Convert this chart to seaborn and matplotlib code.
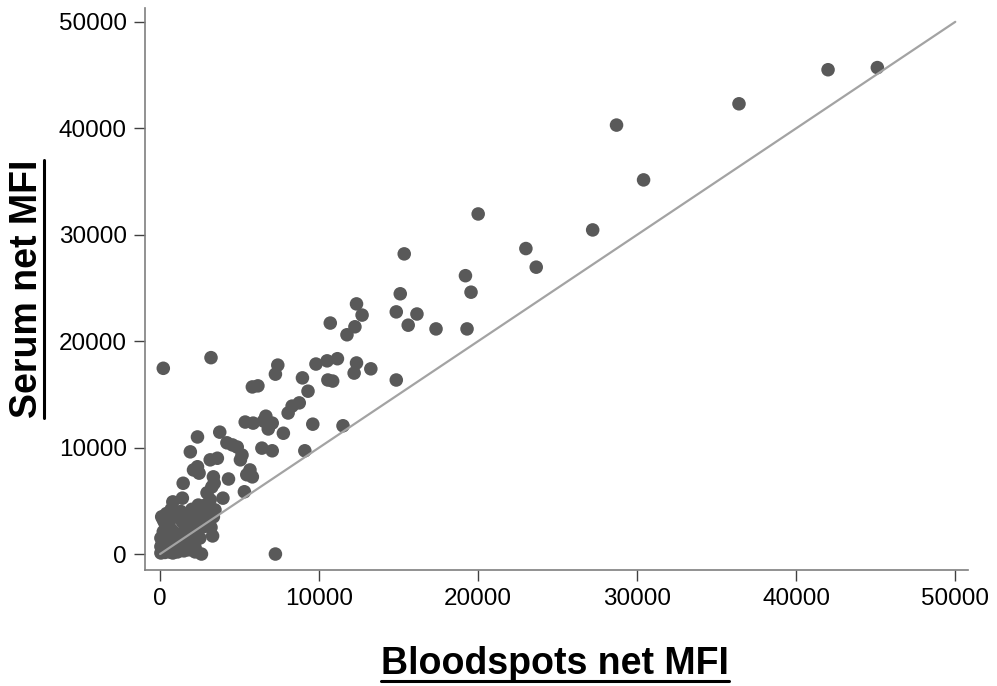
import matplotlib
matplotlib.use("Agg")
import matplotlib.pyplot as plt
from matplotlib.lines import Line2D
import pandas as pd
import seaborn as sns

# Net MFI per sample: bloodspot eluate (x) vs paired serum (y)
bloodspots_mfi = [
    45100, 42000, 36400, 28700, 30400, 27200, 20000, 23000, 23650, 19200,
    19550, 19300, 15350, 15100, 14850, 16150, 15600, 17350, 14850, 12350,
    12700, 10700, 12250, 11750, 7400, 7250, 9800, 10500, 11150, 12350,
    12200, 13250, 10550, 10850, 8950, 9300, 5800, 6150, 8750, 8300,
    8050, 6650, 7050, 5350, 5850, 6500, 6800, 7750, 9600, 11500,
    9100, 3750, 2350, 1900, 4200, 4550, 4850, 6400, 7050, 200,
    3200, 7250, 2200, 2600, 3300, 5150, 5050, 3150, 3600, 2350,
    2100, 2450, 5650, 5800, 3350, 3400, 3250, 4300, 5450, 3950,
    2950, 3150, 5300, 1450, 800, 1400, 3350, 200, 2850, 3450,
    50, 150, 300, 500, 100, 250, 400, 600, 800, 700,
    1000, 1200, 900, 1500, 1300, 1700, 2000, 1600, 2200, 2500,
    200, 400, 100, 600, 1000, 1400, 1800, 2100, 2400, 2800,
    3000, 2600, 2000, 1300, 700, 300, 50, 150, 2200, 1800,
    1100, 1500, 800, 400, 2900, 2400, 50, 3200, 1900, 700,
]
serum_mfi = [
    45700, 45500, 42300, 40300, 35150, 30450, 31950, 28700, 26950, 26150,
    24600, 21150, 28200, 24450, 22750, 22550, 21500, 21150, 16350, 23500,
    22450, 21700, 21350, 20600, 17750, 16900, 17850, 18150, 18350, 17950,
    17000, 17400, 16350, 16250, 16550, 15300, 15700, 15800, 14200, 13900,
    13250, 12950, 12300, 12400, 12300, 12500, 11750, 11350, 12200, 12050,
    9700, 11450, 11000, 9600, 10450, 10250, 10050, 9950, 9700, 17450,
    18450, 0, 200, 0, 1700, 9300, 8850, 8850, 9000, 8200,
    7900, 7600, 7900, 7250, 7250, 6650, 6300, 7050, 7450, 5250,
    5750, 5100, 5850, 6650, 4900, 5250, 3500, 3200, 4600, 4150,
    100, 300, 150, 400, 800, 1200, 700, 200, 900, 1500,
    600, 1200, 2000, 900, 1800, 1500, 1000, 2500, 2000, 1500,
    2100, 2600, 3500, 3100, 3600, 3000, 3300, 2800, 3500, 2600,
    3200, 4000, 4200, 4000, 4200, 2900, 1500, 600, 600, 400,
    200, 300, 100, 3800, 4400, 4600, 700, 2500, 2600, 2300,
]

# Line of identity
identity_x = [0, 50000]
identity_y = [0, 50000]

x_ticks = [0, 10000, 20000, 30000, 40000, 50000]
y_ticks = [0, 10000, 20000, 30000, 40000, 50000]

df = pd.DataFrame({"Bloodspots net MFI": bloodspots_mfi,
                   "Serum net MFI": serum_mfi})

sns.set_theme(style="ticks")
plt.rcParams["font.family"] = ["Liberation Sans", "DejaVu Sans"]

fig = plt.figure(figsize=(9.97, 6.86), dpi=100)
ax = fig.add_axes([145 / 997, 1 - 570 / 686, 823 / 997, 562 / 686])

sns.scatterplot(data=df, x="Bloodspots net MFI", y="Serum net MFI", ax=ax,
                color="#595959", s=95, edgecolor="none", linewidth=0,
                zorder=2)
sns.lineplot(x=identity_x, y=identity_y, ax=ax, color="#a3a3a3",
             linewidth=1.6, zorder=3)

ax.set_xlim(-950, 50800)
ax.set_ylim(-1500, 51300)
ax.set_xticks(x_ticks)
ax.set_yticks(y_ticks)
ax.set_xticklabels([str(t) for t in x_ticks], fontsize=17.5, color="black")
ax.set_yticklabels([str(t) for t in y_ticks], fontsize=17.5, color="black")
ax.tick_params(axis="both", direction="out", length=8, width=1.0,
               color="#404040", pad=5)

for side in ("top", "right"):
    ax.spines[side].set_visible(False)
for side in ("left", "bottom"):
    ax.spines[side].set_color("#7f7f7f")
    ax.spines[side].set_linewidth(1.2)

ax.set_xlabel("Bloodspots net MFI", fontsize=27, fontweight="bold",
              color="black")
ax.set_ylabel("Serum net MFI", fontsize=27, fontweight="bold", color="black")
ax.xaxis.set_label_coords(0.498, -0.135)
ax.yaxis.set_label_coords(-0.122, 0.5)

# Underline both axis titles
fig.canvas.draw()
renderer = fig.canvas.get_renderer()
W, H = fig.bbox.width, fig.bbox.height
xb = ax.xaxis.label.get_window_extent(renderer)
yb = ax.yaxis.label.get_window_extent(renderer)
fig.add_artist(Line2D([xb.x0 / W, xb.x1 / W], [(xb.y0 + 1) / H] * 2,
                      transform=fig.transFigure, color="black", linewidth=2.2))
fig.add_artist(Line2D([(yb.x1 - 1) / W] * 2, [yb.y0 / H, yb.y1 / H],
                      transform=fig.transFigure, color="black", linewidth=2.2))

fig.savefig("out.png", dpi=100, facecolor="white")
